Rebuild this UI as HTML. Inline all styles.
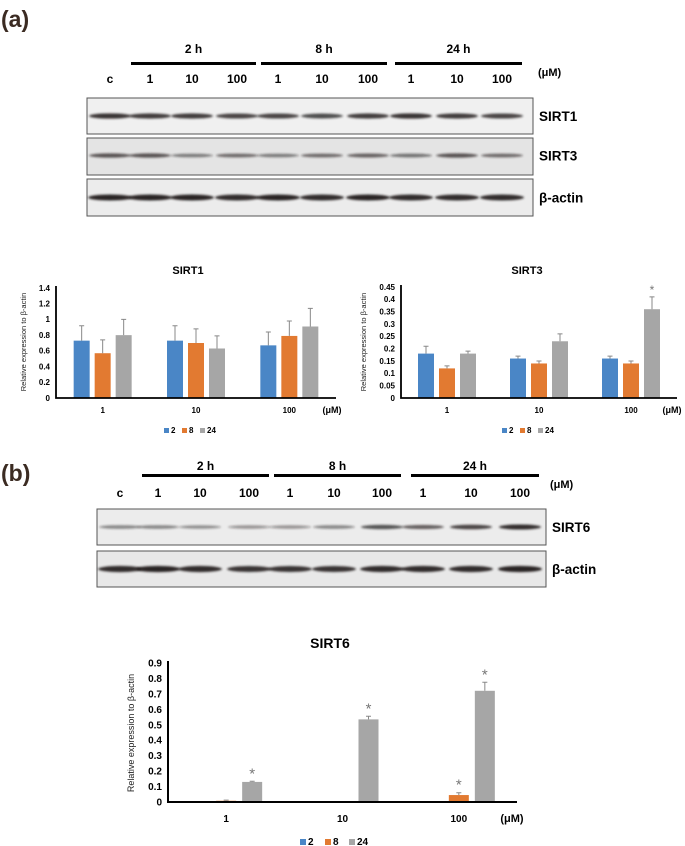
<!DOCTYPE html>
<html><head><meta charset="utf-8"><style>
html,body{margin:0;padding:0;background:#fff;}
svg{display:block;font-family:"Liberation Sans",Arial,sans-serif;}
</style></head><body>
<svg id="fig" width="685" height="846" viewBox="0 0 685 846" xmlns="http://www.w3.org/2000/svg">
<defs><filter id="blur" x="-20%" y="-100%" width="140%" height="300%"><feGaussianBlur stdDeviation="1.1"/></filter></defs>
<text x="1" y="27" font-size="23" font-weight="bold" fill="#3b2b22">(a)</text>
<text x="1" y="481" font-size="23" font-weight="bold" fill="#3b2b22">(b)</text>
<g id="blotsA"></g>
<g id="blotsB"></g>
<g id="c1"></g>
<g id="c3"></g>
<g id="c6"></g>
</svg>
<script>
// ---- chart data ----
const categories = ["1","10","100"];
const seriesNames = ["2","8","24"];
const sirt1_2 = [0.73,0.73,0.67];
const sirt1_8 = [0.57,0.70,0.79];
const sirt1_24 = [0.80,0.63,0.91];
const sirt1_err2 = [0.19,0.19,0.17];
const sirt1_err8 = [0.17,0.18,0.19];
const sirt1_err24 = [0.20,0.16,0.23];
const sirt1_ticks = ["0","0.2","0.4","0.6","0.8","1","1.2","1.4"];
const sirt3_2 = [0.18,0.16,0.16];
const sirt3_8 = [0.12,0.14,0.14];
const sirt3_24 = [0.18,0.23,0.36];
const sirt3_err2 = [0.03,0.01,0.01];
const sirt3_err8 = [0.01,0.01,0.01];
const sirt3_err24 = [0.01,0.03,0.05];
const sirt3_stars24 = [false,false,true];
const sirt3_ticks = ["0","0.05","0.1","0.15","0.2","0.25","0.3","0.35","0.4","0.45"];
const sirt6_2 = [0.005,0.005,0.005];
const sirt6_8 = [0.008,0.005,0.045];
const sirt6_24 = [0.13,0.535,0.72];
const sirt6_err2 = [0,0,0];
const sirt6_err8 = [0.004,0,0.015];
const sirt6_err24 = [0.004,0.02,0.055];
const sirt6_stars8 = [false,false,true];
const sirt6_stars24 = [true,true,true];
const sirt6_ticks = ["0","0.1","0.2","0.3","0.4","0.5","0.6","0.7","0.8","0.9"];

const NS="http://www.w3.org/2000/svg";
const COLORS=["#4a86c6","#e27a31","#a6a6a6"];
function mk(parent,tag,attrs,text){const e=document.createElementNS(NS,tag);for(const k in attrs)e.setAttribute(k,attrs[k]);if(text!==undefined)e.textContent=text;parent.appendChild(e);return e;}

function drawChart(g,o){
  const yScale=v=>o.y0-(v/o.ymax)*(o.y0-o.ytop);
  const t=mk(g,"text",{x:o.titleX,y:o.titleY,"font-size":o.titleFs,"font-weight":"bold","text-anchor":"middle"},o.title);
  
  
  o.ticks.forEach(tk=>{
    const tt=mk(g,"text",{x:o.x0-6,y:yScale(parseFloat(tk))+o.tickFs*0.35,"font-size":o.tickFs,"font-weight":"bold","text-anchor":"end"},tk);
    
    
  });
  const yt=mk(g,"text",{x:0,y:0,"font-size":o.ytFs,"text-anchor":"middle",fill:"#222",transform:`translate(${o.ytX},${o.ytY}) rotate(-90)`},"Relative expression to β-actin");
  
  
  const series=[o.s2,o.s8,o.s24], errs=[o.e2,o.e8,o.e24], stars=[null,o.st8,o.st24];
  categories.forEach((c,i)=>{
    const cx=o.x0+(i+0.5)*(o.x1-o.x0)/3;
    series.forEach((s,j)=>{
      const bx=cx+(j-1)*o.sp-o.bw/2;
      const top=yScale(s[i]);
      const r=mk(g,"rect",{x:bx,y:top,width:o.bw,height:o.y0-top,fill:COLORS[j]});
      
      
      const e=errs[j][i];
      if(e>0){
        const et=yScale(s[i]+e);
        const l=mk(g,"path",{d:`M${bx+o.bw/2} ${top}V${et}M${bx+o.bw/2-2.5} ${et}H${bx+o.bw/2+2.5}`,stroke:"#888","stroke-width":1,fill:"none"});
        
        
      }
      if(stars[j]&&stars[j][i]){
        const st=mk(g,"text",{x:bx+o.bw/2,y:yScale(s[i]+e)-3,"font-size":o.starFs,fill:"#777","text-anchor":"middle"},"*");
        
        
      }
    });
    const xl=mk(g,"text",{x:cx,y:o.xlY,"font-size":o.tickFs,"font-weight":"bold","text-anchor":"middle"},c);
    
    
  });
  const ax=mk(g,"path",{d:`M${o.x0} ${o.ytop-2}V${o.y0}H${o.x1}`,stroke:"#000","stroke-width":o.axW,fill:"none"});
  
  
  const um=mk(g,"text",{x:o.umX,y:o.xlY,"font-size":o.tickFs+1,"font-weight":"bold","text-anchor":"middle"},"(μM)");
  
  
  let lx=o.legX;
  seriesNames.forEach((n,j)=>{
    const sq=mk(g,"rect",{x:lx,y:o.legY-o.legSq+1,width:o.legSq,height:o.legSq,fill:COLORS[j]});
    
    
    const lt=mk(g,"text",{x:lx+o.legSq+2,y:o.legY+1,"font-size":o.legFs,"font-weight":"bold"},n);
    
    
    lx+=o.legStep[j];
  });
}

drawChart(document.getElementById('c1'),{title:"SIRT1",titleX:188,titleY:274,titleFs:11,x0:56,x1:336,y0:398,ytop:288,ymax:1.4,ticks:sirt1_ticks,tickFs:8,ytFs:7.5,ytX:26,ytY:342,
  s2:sirt1_2,s8:sirt1_8,s24:sirt1_24,e2:sirt1_err2,e8:sirt1_err8,e24:sirt1_err24,bw:16,sp:21,starFs:12,xlY:413,umX:332,axW:1.8,legX:164,legY:432,legSq:5,legFs:8,legStep:[18,18,18]});
drawChart(document.getElementById('c3'),{title:"SIRT3",titleX:527,titleY:274,titleFs:11,x0:401,x1:677,y0:398,ytop:287,ymax:0.45,ticks:sirt3_ticks,tickFs:8,ytFs:7.5,ytX:366,ytY:342,
  s2:sirt3_2,s8:sirt3_8,s24:sirt3_24,e2:sirt3_err2,e8:sirt3_err8,e24:sirt3_err24,st24:sirt3_stars24,bw:16,sp:21,starFs:12,xlY:413,umX:672,axW:1.8,legX:502,legY:432,legSq:5,legFs:8,legStep:[18,18,18]});
drawChart(document.getElementById('c6'),{title:"SIRT6",titleX:330,titleY:648,titleFs:14,x0:168,x1:517,y0:802,ytop:663,ymax:0.9,ticks:sirt6_ticks,tickFs:10,ytFs:9,ytX:134,ytY:733,
  s2:sirt6_2,s8:sirt6_8,s24:sirt6_24,e2:sirt6_err2,e8:sirt6_err8,e24:sirt6_err24,st8:sirt6_stars8,st24:sirt6_stars24,bw:20,sp:26,starFs:15,xlY:822,umX:512,axW:2,legX:300,legY:844,legSq:6,legFs:10,legStep:[25,24,25]});

// ---- blots ----
function header(g,o){
  o.groups.forEach((gr,i)=>{
    const b=mk(g,"rect",{x:gr[0],y:o.barY,width:gr[1]-gr[0],height:3,fill:"#000"});
    
    
    const t=mk(g,"text",{x:(gr[0]+gr[1])/2,y:o.hY,"font-size":12,"font-weight":"bold","text-anchor":"middle"},["2 h","8 h","24 h"][i]);
    
    
  });
  o.lanes.forEach((x,i)=>{
    const t=mk(g,"text",{x:x,y:o.lY,"font-size":12,"font-weight":"bold","text-anchor":"middle"},o.laneLabels[i]);
    
    
  });
  const u=mk(g,"text",{x:o.umX,y:o.umY,"font-size":11,"font-weight":"bold"},"(μM)");
  
  
}
function blot(g,o){
  const r=mk(g,"rect",{x:o.x0,y:o.y0,width:o.x1-o.x0,height:o.y1-o.y0,fill:o.bg,stroke:"#555","stroke-width":1});
  
  
  const by=(o.y0+o.y1)/2+o.off;
  o.lanes.forEach((x,i)=>{
    const a=o.int[i];
    const e=mk(g,"ellipse",{cx:x,cy:by,rx:o.bw/2,ry:o.th*(0.6+0.6*a),fill:`rgba(35,30,30,${0.3+0.7*a})`,filter:"url(#blur)"});
    
    
  });
  const l=mk(g,"text",{x:o.x1+6,y:by+5,"font-size":13.5,"font-weight":"bold"},o.label);
  
  
}
const lanesA=[110,150,192,237,278,322,368,411,457,502];
const lanesB=[120,158,200,249,290,334,382,423,471,520];
const laneLabels=["c","1","10","100","1","10","100","1","10","100"];
const gA=document.getElementById('blotsA'), gB=document.getElementById('blotsB');
header(gA,{groups:[[131,256],[261,387],[395,522]],barY:62,hY:53,lanes:lanesA,laneLabels,lY:83,umX:538,umY:76});
blot(gA,{name:"sirt1",label:"SIRT1",x0:87,x1:533,y0:98,y1:134,bg:"#f0f0f0",lanes:lanesA,bw:42,th:2.4,off:0,int:[0.85,0.8,0.8,0.75,0.75,0.7,0.8,0.85,0.8,0.75]});
blot(gA,{name:"sirt3",label:"SIRT3",x0:87,x1:533,y0:138,y1:175,bg:"#e4e4e4",lanes:lanesA,bw:42,th:2.2,off:-1,int:[0.6,0.6,0.35,0.45,0.35,0.45,0.5,0.4,0.6,0.45]});
blot(gA,{name:"beta-actin-a",label:"β-actin",x0:87,x1:533,y0:179,y1:216,bg:"#ececec",lanes:lanesA,bw:44,th:2.6,off:0,int:[0.95,0.95,0.95,0.9,0.95,0.9,0.95,0.9,0.9,0.9]});
header(gB,{groups:[[142,269],[274,401],[411,539]],barY:474,hY:470,lanes:lanesB,laneLabels,lY:497,umX:550,umY:488});
blot(gB,{name:"sirt6",label:"SIRT6",x0:97,x1:546,y0:509,y1:545,bg:"#ececec",lanes:lanesB,bw:42,th:2.2,off:0,int:[0.3,0.3,0.25,0.2,0.2,0.3,0.65,0.55,0.75,0.9]});
blot(gB,{name:"beta-actin-b",label:"β-actin",x0:97,x1:546,y0:551,y1:587,bg:"#e8e8e8",lanes:lanesB,bw:44,th:2.7,off:0,int:[0.9,0.95,0.9,0.85,0.85,0.85,0.9,0.9,0.9,0.95]});
</script>
</body></html>
